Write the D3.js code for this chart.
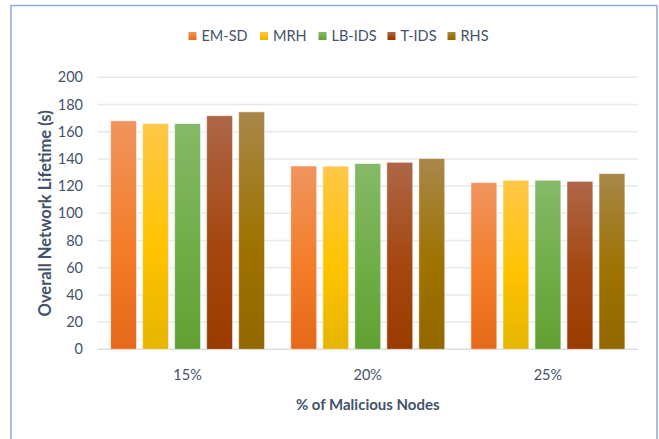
<!DOCTYPE html>
<html><head><meta charset="utf-8">
<script src="https://cdn.jsdelivr.net/npm/d3@7"></script>
<style>body{margin:0;background:#fff}svg{display:block}</style>
</head><body><svg id="c" width="659" height="439"></svg>
<script>
const categories = ["15%", "20%", "25%"];
const seriesNames = ["EM-SD", "MRH", "LB-IDS", "T-IDS", "RHS"];
const emsd  = [168.0, 134.8, 122.6];
const mrh   = [166.0, 134.7, 124.3];
const lbids = [166.0, 136.6, 124.3];
const tids  = [171.8, 137.5, 123.5];
const rhs   = [174.6, 140.3, 129.2];
const yTicks = [0, 20, 40, 60, 80, 100, 120, 140, 160, 180, 200];
const yTitle = "Overall Network Lifetime (s)";
const xTitle = "% of Malicious Nodes";

const seriesValues = [emsd, mrh, lbids, tids, rhs];
// [top tint, base, bottom shade]
const palette = [
  ["#F0945F", "#F47D28", "#E5691A"],
  ["#FFC748", "#FFC300", "#E6B500"],
  ["#86B968", "#70AD47", "#62A033"],
  ["#AE6648", "#A5470F", "#9A3B00"],
  ["#A8874A", "#9E7300", "#926700"]
];
const textColor = "#44526A";
const font = "Lato, 'Open Sans', sans-serif";

const svg = d3.select("#c");
const pL = 97.5, pR = 638, pT = 77.3, pB = 349.3;

// frame
svg.append("rect").attr("x", 11).attr("y", 5.5).attr("width", 646).attr("height", 450)
  .attr("fill", "#fff").attr("stroke", "#8FAADC").attr("stroke-width", 1.5);

const y = d3.scaleLinear().domain([0, 200]).range([pB, pT]);
const x0 = d3.scaleBand().domain(categories).range([pL, pR]).padding(0);
const groupW = 154;
const x1 = d3.scaleBand().domain(seriesNames)
  .range([(x0.bandwidth() - groupW) / 2, (x0.bandwidth() + groupW) / 2])
  .paddingInner(0.19).paddingOuter(0);

// gradients
const defs = svg.append("defs");
palette.forEach((p, i) => {
  const g = defs.append("linearGradient").attr("id", "g" + i)
    .attr("x1", 0).attr("y1", 0).attr("x2", 0).attr("y2", 1);
  g.append("stop").attr("offset", "0%").attr("stop-color", p[0]);
  g.append("stop").attr("offset", "55%").attr("stop-color", p[1]);
  g.append("stop").attr("offset", "100%").attr("stop-color", p[2]);
});

// gridlines
svg.append("g").selectAll("line").data(yTicks).join("line")
  .attr("x1", pL).attr("x2", pR)
  .attr("y1", d => y(d)).attr("y2", d => y(d))
  .attr("stroke", d => d === 0 ? "#DADDE3" : "#E6E9EE").attr("stroke-width", 1.5);

// y tick labels
svg.append("g").selectAll("text").data(yTicks).join("text")
  .attr("x", 83).attr("y", d => y(d)).attr("dy", "0.35em")
  .attr("text-anchor", "end").attr("font-family", font).attr("font-size", 14.5)
  .attr("fill", textColor).text(d => d);

// bars
const groups = svg.append("g").selectAll("g").data(categories).join("g")
  .attr("transform", c => `translate(${x0(c)},0)`);
groups.selectAll("rect").data((c, ci) => seriesNames.map((s, si) => ({s, si, v: seriesValues[si][ci]})))
  .join("rect")
  .attr("x", d => x1(d.s)).attr("width", x1.bandwidth())
  .attr("y", d => y(d.v)).attr("height", d => pB - y(d.v))
  .attr("fill", d => `url(#g${d.si})`)
  .attr("stroke", "rgba(255,255,255,0.55)").attr("stroke-width", 1);

// x tick labels
svg.append("g").selectAll("text").data(categories).join("text")
  .attr("x", c => x0(c) + x0.bandwidth() / 2).attr("y", 375).attr("dy", "0.35em")
  .attr("text-anchor", "middle").attr("font-family", font).attr("font-size", 14.5)
  .attr("fill", textColor).text(c => c);

// axis titles
svg.append("text").attr("x", (pL + pR) / 2).attr("y", 405).attr("dy", "0.35em")
  .attr("text-anchor", "middle").attr("font-family", font).attr("font-weight", "bold")
  .attr("font-size", 15).attr("fill", textColor).text(xTitle);
svg.append("text").attr("transform", `translate(45,${(pT + pB) / 2}) rotate(-90)`)
  .attr("dy", "0.35em").attr("text-anchor", "middle").attr("font-family", font)
  .attr("font-weight", "bold").attr("font-size", 16.5).attr("fill", textColor).text(yTitle);

// legend
const legendX = [188.5, 260, 318.5, 387.5, 447.5];
const lg = svg.append("g").selectAll("g").data(seriesNames).join("g")
  .attr("transform", (s, i) => `translate(${legendX[i]},36)`);
lg.append("rect").attr("x", 0).attr("y", -4).attr("width", 8).attr("height", 8)
  .attr("fill", (s, i) => `url(#g${i})`);
lg.append("text").attr("x", 13).attr("dy", "0.35em").attr("font-family", font)
  .attr("font-size", 14.5).attr("fill", textColor).text(s => s);
</script></body></html>
